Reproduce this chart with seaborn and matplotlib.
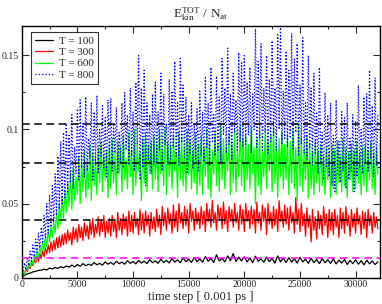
import numpy as np
import pandas as pd
import seaborn as sns
import matplotlib
matplotlib.use("Agg")
import matplotlib.pyplot as plt
from matplotlib.ticker import MultipleLocator

sns.set_style("ticks")
plt.rcParams['font.family'] = ['Liberation Serif', 'DejaVu Serif']
plt.rcParams['mathtext.fontset'] = 'custom'
plt.rcParams['mathtext.rm'] = 'Liberation Serif'
plt.rcParams['mathtext.it'] = 'Liberation Serif'
plt.rcParams['mathtext.default'] = 'regular'

T_MAX = 32000

LABELS = ['T = 100', 'T = 300', 'T = 600', 'T = 800']
COLORS = ['black', '#ff0000', '#00ff00', '#0000ff']
STYLES = ['-', '-', '-', ':']

# kinetic energy per atom, units of 1e-3 eV
# T=100 every 250 steps, the others every 125 steps
E_T100 = [0, 1.5, 2.5, 3.0, 3.8, 4.2, 4.8, 5.0, 5.6, 5.2, 6.4, 5.8, 6.8, 6.2, 7.4, 6.6,
          7.8, 7.0, 8.4, 7.2, 8.8, 7.6, 9.4, 8.0, 9.0, 8.2, 10.2, 8.6, 9.6, 8.4, 10.6, 9.0,
          10.2, 8.8, 11.0, 9.4, 10.4, 9.0, 11.4, 9.6, 10.8, 9.2, 11.6, 9.8, 11.0, 9.4, 12.0, 10.0,
          11.2, 9.6, 12.4, 10.2, 11.6, 9.8, 12.8, 10.4, 12.0, 10.0, 13.2, 10.6, 12.4, 10.2, 13.6, 10.8,
          12.6, 10.4, 14.2, 11.0, 12.8, 10.2, 15.4, 11.2, 13.0, 10.6, 14.6, 11.4, 16.2, 10.8, 13.8, 11.2,
          14.0, 10.6, 13.2, 10.0, 14.4, 11.0, 12.6, 10.4, 13.8, 10.8, 12.8, 9.8, 14.6, 10.6, 13.0, 10.2,
          13.4, 10.4, 12.8, 9.8, 13.6, 10.6, 12.4, 9.6, 13.0, 10.2, 12.2, 9.4, 12.8, 10.0, 12.0, 9.6,
          12.6, 9.2, 11.8, 9.8, 12.2, 8.8, 11.6, 9.4, 12.0, 9.0, 11.4, 8.6, 11.8, 9.2, 11.2, 8.8,
          10.6]
E_T300 = [0, 3, 2, 6, 4, 8, 6, 10, 8, 12, 10, 14, 11, 16, 13, 18, 14, 20, 16, 22, 17, 24, 18, 25, 19, 27, 20, 28, 21, 29, 22, 30,
          23, 32, 25, 30, 22, 34, 26, 33, 24, 36, 27, 34, 25, 37, 28, 35, 26, 38, 29, 40, 27, 36, 30, 41, 28, 39, 31, 42, 27, 38, 30, 40,
          28, 42, 31, 39, 27, 44, 32, 40, 29, 43, 33, 41, 28, 45, 31, 42, 30, 44, 34, 40, 29, 46, 32, 43, 30, 45, 35, 42, 28, 44, 33, 41,
          31, 46, 34, 42, 29, 48, 35, 44, 32, 47, 36, 43, 30, 49, 34, 45, 31, 50, 37, 44, 33, 48, 35, 46, 30, 50, 38, 45, 32, 47, 36, 44,
          33, 48, 36, 45, 31, 50, 38, 46, 34, 52, 37, 44, 32, 49, 39, 47, 33, 51, 36, 45, 31, 48, 38, 46, 34, 50, 37, 44, 32, 49, 36, 46,
          31, 50, 38, 45, 33, 48, 36, 46, 30, 51, 37, 44, 32, 49, 38, 47, 29, 50, 36, 44, 33, 48, 35, 46, 31, 52, 38, 45, 34, 49, 36, 47,
          32, 48, 37, 44, 30, 54, 36, 46, 31, 50, 35, 43, 28, 47, 34, 42, 24, 46, 32, 41, 26, 45, 33, 42, 29, 48, 35, 43, 27, 46, 32, 44,
          29, 46, 34, 42, 27, 47, 33, 44, 30, 48, 35, 42, 28, 46, 34, 43, 30, 47, 36, 42, 29, 45, 33, 44, 27, 46, 35, 42, 30, 44, 34, 41,
          33]
E_T600 = [0, 4, 2, 7, 5, 10, 7, 12, 9, 15, 11, 18, 13, 21, 16, 24, 18, 28, 21, 32, 24, 35, 27, 38, 30, 44, 33, 50, 36, 54, 40, 58,
          44, 64, 48, 70, 46, 74, 52, 68, 56, 82, 50, 78, 58, 86, 54, 76, 60, 90, 52, 84, 62, 80, 56, 88, 64, 92, 58, 82, 66, 86, 54, 90,
          60, 94, 64, 84, 56, 92, 70, 88, 58, 96, 66, 80, 60, 98, 68, 86, 56, 100, 62, 90, 72, 84, 52, 94, 64, 98, 58, 88, 70, 92, 60, 96,
          66, 90, 58, 100, 70, 86, 62, 102, 56, 92, 68, 88, 60, 96, 72, 84, 54, 98, 66, 94, 62, 88, 58, 100, 70, 92, 60, 86, 64, 98, 56, 90,
          62, 96, 56, 88, 68, 100, 60, 92, 54, 86, 70, 98, 62, 90, 58, 104, 66, 94, 60, 88, 72, 96, 56, 92, 64, 100, 58, 86, 68, 102, 62, 94,
          58, 96, 66, 90, 60, 102, 70, 88, 50, 94, 62, 98, 56, 86, 68, 100, 60, 92, 72, 96, 58, 102, 64, 88, 54, 94, 68, 98, 60, 90, 66, 96,
          56, 92, 64, 100, 60, 88, 52, 104, 62, 94, 58, 86, 66, 96, 54, 90, 60, 84, 56, 92, 64, 86, 58, 90, 62, 82, 56, 88, 66, 84, 54, 90,
          60, 86, 56, 92, 64, 82, 58, 94, 62, 88, 54, 84, 66, 90, 58, 86, 60, 92, 64, 84, 56, 88, 62, 90, 58, 86, 66, 92, 60, 84, 56, 88,
          70]
E_T800 = [0, 4, 10, 5, 14, 8, 18, 11, 22, 14, 26, 17, 30, 20, 34, 24, 42, 27, 50, 30, 56, 34, 62, 38, 70, 42, 82, 46, 92, 50, 98, 54,
          104, 58, 96, 64, 110, 60, 88, 70, 114, 66, 120, 74, 104, 68, 122, 72, 94, 80, 118, 66, 112, 76, 123, 70, 100, 82, 116, 74, 108, 68, 120, 78,
          121, 72, 104, 84, 115, 70, 98, 78, 118, 74, 125, 86, 110, 76, 128, 82, 112, 72, 132, 90, 150, 66, 128, 74, 140, 62, 118, 80, 110, 70, 124, 76,
          132, 78, 112, 86, 138, 72, 124, 90, 104, 76, 134, 80, 126, 88, 146, 82, 118, 76, 148, 92, 130, 80, 122, 70, 110, 84, 118, 74, 104, 80, 114, 72,
          126, 82, 112, 78, 135, 88, 118, 76, 142, 92, 110, 82, 136, 86, 122, 78, 148, 96, 128, 84, 155, 90, 124, 80, 138, 98, 120, 86, 152, 92, 145, 88,
          150, 90, 132, 96, 142, 84, 124, 100, 168, 88, 146, 94, 158, 86, 128, 98, 150, 84, 134, 92, 160, 96, 128, 86, 164, 100, 170, 90, 126, 94, 152, 88,
          140, 94, 165, 86, 148, 98, 158, 82, 130, 90, 162, 84, 118, 80, 150, 88, 128, 76, 138, 84, 112, 70, 142, 78, 98, 66, 125, 74, 110, 68, 118, 62,
          96, 58, 120, 70, 92, 64, 112, 72, 108, 60, 118, 66, 94, 72, 110, 58, 106, 68, 130, 74, 100, 70, 122, 78, 124, 72, 140, 80, 116, 68, 135, 76,
          110]

# equipartition reference levels 3/2 kB T (eV)
REF_LEVELS = [0.0129, 0.0388, 0.0776, 0.1034]
REF_COLORS = ['#ff00ff', 'black', 'black', 'black']

series = [E_T100, E_T300, E_T600, E_T800]

fig = plt.figure(figsize=(3.82, 3.04), dpi=100)
ax = fig.add_axes([0.057, 0.087, 0.938, 0.828])

for vals, lab, col, ls in zip(series, LABELS, COLORS, STYLES):
    steps = np.linspace(0, T_MAX, len(vals))
    df = pd.DataFrame({'step': steps, 'ekin': np.array(vals) / 1000.0})
    sns.lineplot(data=df, x='step', y='ekin', ax=ax, color=col, linestyle=ls,
                 linewidth=0.9, label=lab, sort=False, estimator=None)

for lev, col in zip(REF_LEVELS, REF_COLORS):
    ax.axhline(lev, color=col, linestyle=(0, (5, 3)), linewidth=1.1, zorder=5)

ax.set_xlim(0, 32200)
ax.set_ylim(0, 0.17)
ax.xaxis.set_major_locator(MultipleLocator(5000))
ax.xaxis.set_minor_locator(MultipleLocator(2500))
ax.yaxis.set_minor_locator(MultipleLocator(0.025))
ax.set_yticks([0, 0.05, 0.1, 0.15])
ax.set_yticklabels(['0', '0.05', '0.1', '0.15'])
ax.tick_params(which='both', direction='in', top=True, right=True, labelsize=7,
               width=0.8, pad=2)
ax.tick_params(which='major', length=5)
ax.tick_params(which='minor', length=2.5)
for sp in ax.spines.values():
    sp.set_color('black')
    sp.set_linewidth(1.0)

ax.set_xlabel('time step [ 0.001 ps ]', fontsize=9, labelpad=1)
ax.set_ylabel('')
ax.set_title(r'$E_{kin}^{TOT}\ /\ N_{at}$', fontsize=9.5, pad=5)

leg = ax.legend(loc='upper left', bbox_to_anchor=(0.026, 0.976), fontsize=8,
                frameon=True, fancybox=False, borderaxespad=0, handlelength=1.6,
                labelspacing=0.15, borderpad=0.35, handletextpad=0.6)
leg.get_frame().set_edgecolor('black')
leg.get_frame().set_linewidth(0.8)
leg.set_zorder(10)

fig.savefig('out.png', dpi=100)
